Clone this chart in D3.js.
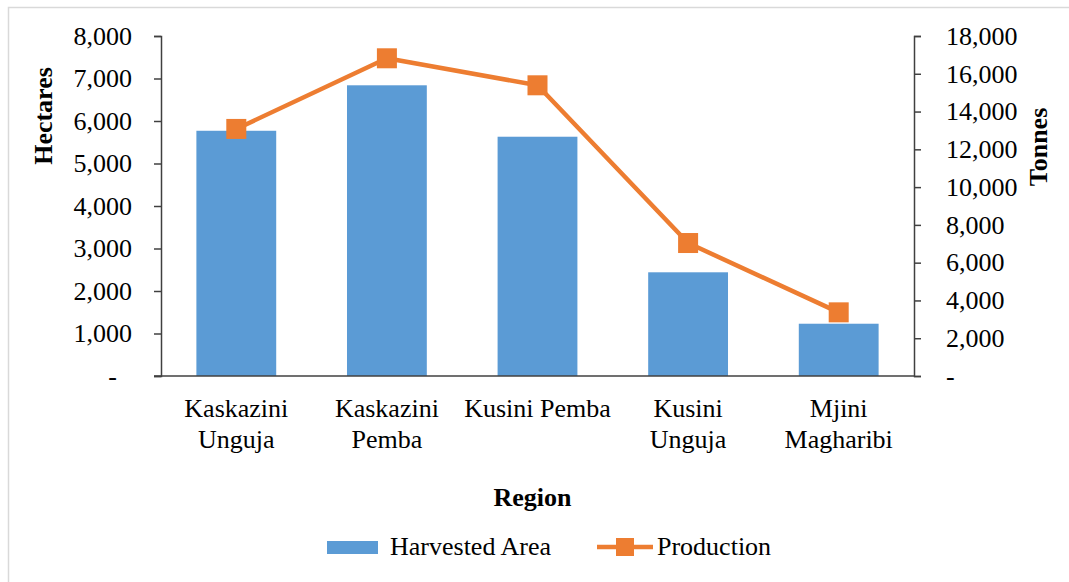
<!DOCTYPE html>
<html>
<head>
<meta charset="utf-8">
<script src="https://cdn.jsdelivr.net/npm/d3@7"></script>
<style>
  body { margin: 0; background: #fff; }
</style>
</head>
<body>
<div id="chart"></div>
<script>
const regions = ['Kaskazini Unguja', 'Kaskazini Pemba', 'Kusini Pemba', 'Kusini Unguja', 'Mjini Magharibi'];
const harvestedArea = [5770, 6840, 5630, 2440, 1230];   // hectares
const production = [13080, 16820, 15390, 7040, 3370];   // tonnes
const leftTicks = [0, 1000, 2000, 3000, 4000, 5000, 6000, 7000, 8000];
const rightTicks = [0, 2000, 4000, 6000, 8000, 10000, 12000, 14000, 16000, 18000];

const width = 1069;
const height = 582;
const margin = { top: 36, right: 155, bottom: 206, left: 161 };

const blue = '#5b9bd5';
const orange = '#ed7d31';
const axisColor = '#404040';
const serif = 'Liberation Serif, Tinos, Times New Roman, DejaVu Serif, serif';

const svg = d3.select('#chart')
    .append('svg')
    .attr('width', width)
    .attr('height', height)
    .attr('font-family', serif);

// chart frame (only left/top edges fall inside the picture)
svg.append('rect')
    .attr('x', 8.5).attr('y', 7.5)
    .attr('width', 1100).attr('height', 620)
    .attr('fill', 'none')
    .attr('stroke', '#d9d9d9')
    .attr('stroke-width', 1.5);

const xScale = d3.scaleBand()
    .domain(regions)
    .range([margin.left, width - margin.right])
    .paddingInner(0.47)
    .paddingOuter(0.235);

const yLeft = d3.scaleLinear()
    .domain([0, 8000])
    .range([height - margin.bottom, margin.top]);

const yRight = d3.scaleLinear()
    .domain([0, 18000])
    .range([height - margin.bottom, margin.top]);

const fmt = v => v === 0 ? '-' : d3.format(',')(v);

// bars
svg.selectAll('rect.bar')
    .data(regions)
    .enter()
    .append('rect')
    .attr('class', 'bar')
    .attr('x', d => xScale(d))
    .attr('y', (d, i) => yLeft(harvestedArea[i]))
    .attr('width', xScale.bandwidth())
    .attr('height', (d, i) => yLeft(0) - yLeft(harvestedArea[i]))
    .attr('fill', blue);

// left axis
const gL = svg.append('g')
    .attr('transform', `translate(${margin.left}, 0)`)
    .call(d3.axisLeft(yLeft).tickValues(leftTicks).tickFormat(fmt).tickSizeOuter(0).tickSize(7).tickPadding(22));
gL.selectAll('text').filter(d => d === 0).attr('dx', -15);

// right axis
const gR = svg.append('g')
    .attr('transform', `translate(${width - margin.right}, 0)`)
    .call(d3.axisRight(yRight).tickValues(rightTicks).tickFormat(fmt).tickSizeOuter(0).tickSize(7).tickPadding(25));

// bottom axis
const gB = svg.append('g')
    .attr('transform', `translate(0, ${height - margin.bottom})`)
    .call(d3.axisBottom(xScale).tickSize(0).tickSizeOuter(0).tickFormat(''));
gB.select('.domain').attr('d', `M${margin.left - 7},0H${width - margin.right}`);

[gL, gR, gB].forEach(g => {
    g.attr('font-family', serif).attr('font-size', 26);
    g.selectAll('text').attr('fill', '#000');
    g.selectAll('.domain').attr('stroke', axisColor).attr('stroke-width', 1.5);
    g.selectAll('.tick line').attr('stroke', axisColor).attr('stroke-width', 1.5);
});

// category labels, wrapped to band width
const catLabels = svg.append('g');
regions.forEach(r => {
    const cx = xScale(r) + xScale.bandwidth() / 2;
    const t = catLabels.append('text')
        .attr('text-anchor', 'middle')
        .attr('font-size', 26);
    const words = r.split(' ');
    let line = [];
    let lineNo = 0;
    let tspan = t.append('tspan').attr('x', cx).attr('y', 417);
    words.forEach(w => {
        line.push(w);
        tspan.text(line.join(' '));
        if (tspan.node().getComputedTextLength() > xScale.step() && line.length > 1) {
            line.pop();
            tspan.text(line.join(' '));
            line = [w];
            lineNo++;
            tspan = t.append('tspan').attr('x', cx).attr('y', 417 + lineNo * 31).text(w);
        }
    });
});

// production line
const line = d3.line()
    .x((d, i) => xScale(regions[i]) + xScale.bandwidth() / 2)
    .y(d => yRight(d));

svg.append('path')
    .datum(production)
    .attr('d', line)
    .attr('fill', 'none')
    .attr('stroke', orange)
    .attr('stroke-width', 4.5)
    .attr('stroke-linejoin', 'round');

svg.selectAll('rect.marker')
    .data(production)
    .enter()
    .append('rect')
    .attr('class', 'marker')
    .attr('x', (d, i) => xScale(regions[i]) + xScale.bandwidth() / 2 - 10)
    .attr('y', d => yRight(d) - 10)
    .attr('width', 20)
    .attr('height', 20)
    .attr('fill', orange);

// axis titles
svg.append('text')
    .attr('transform', 'translate(52, 116) rotate(-90)')
    .attr('text-anchor', 'middle')
    .attr('font-size', 26)
    .attr('font-weight', 'bold')
    .text('Hectares');

svg.append('text')
    .attr('transform', 'translate(1047, 147) rotate(-90)')
    .attr('text-anchor', 'middle')
    .attr('font-size', 26)
    .attr('font-weight', 'bold')
    .text('Tonnes');

svg.append('text')
    .attr('x', (margin.left + width - margin.right) / 2 - 5)
    .attr('y', 506)
    .attr('text-anchor', 'middle')
    .attr('font-size', 26)
    .attr('font-weight', 'bold')
    .text('Region');

// legend
const lg = svg.append('g');
lg.append('rect').attr('x', 327).attr('y', 541).attr('width', 51).attr('height', 13).attr('fill', blue);
lg.append('text').attr('x', 390).attr('y', 555).attr('font-size', 26).text('Harvested Area');
lg.append('line').attr('x1', 597).attr('x2', 653).attr('y1', 547).attr('y2', 547)
    .attr('stroke', orange).attr('stroke-width', 4.5);
lg.append('rect').attr('x', 616).attr('y', 538).attr('width', 18).attr('height', 18).attr('fill', orange);
lg.append('text').attr('x', 657).attr('y', 555).attr('font-size', 26).text('Production');
</script>
</body>
</html>
